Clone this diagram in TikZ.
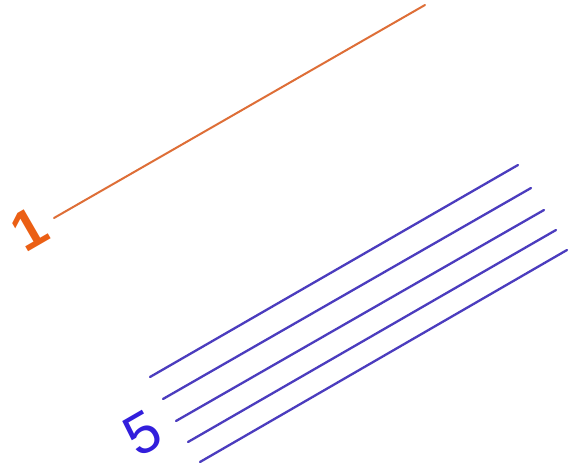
\documentclass[tikz,border=0pt]{standalone}
\usepackage{fontspec}
\setmainfont{Liberation Sans}
\definecolor{orangeline}{RGB}{222,110,55}
\definecolor{orangetext}{RGB}{235,95,20}
\definecolor{blueline}{RGB}{75,60,190}
\definecolor{bluetext}{RGB}{50,30,220}
\begin{document}
\begin{tikzpicture}[x=1pt,y=-1pt,
  orangestroke/.style={draw=orangeline,line width=2pt,line cap=round},
  bluestroke/.style={draw=blueline,line width=2.3pt,line cap=round},
  label/.style={inner sep=0pt,rotate=30,font=\fontsize{58}{58}\selectfont}]
\useasboundingbox[fill=white] (0,0) rectangle (579,468);
\coordinate (oa) at (54,218);
\coordinate (ob) at (425,5);
\draw[orangestroke] (oa) -- (ob);
\node[label,text=orangetext,font=\fontsize{56}{56}\selectfont\bfseries] (one) at (29,229) {1};
\coordinate (a1) at (150,377); \coordinate (b1) at (518,165);
\coordinate (a2) at (163,399); \coordinate (b2) at (531,188);
\coordinate (a3) at (176,421); \coordinate (b3) at (544,210);
\coordinate (a4) at (188,442); \coordinate (b4) at (556,230);
\coordinate (a5) at (200,462); \coordinate (b5) at (567,250);
\foreach \i in {1,...,5} {\draw[bluestroke] (a\i) -- (b\i);}
\node[label,text=bluetext] (five) at (143,433) {5};
\end{tikzpicture}
\end{document}
